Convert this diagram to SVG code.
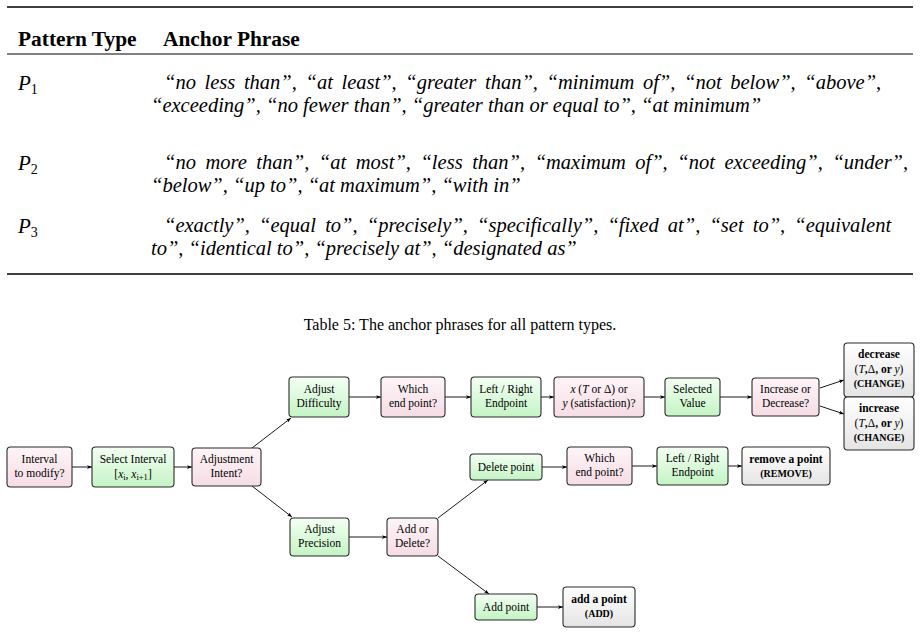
<svg xmlns="http://www.w3.org/2000/svg" width="921" height="634" viewBox="0 0 921 634">
<style>
text{font-family:"Liberation Serif","Times New Roman",serif;fill:#000}
.hd{font-size:21.4px;font-weight:bold}
.ph{font-size:20.5px;font-style:italic}
.pl{font-size:21px;font-style:italic}
.sb{font-size:14px;font-style:normal}
.cap{font-size:16px}
.n{font-size:11.5px;text-anchor:middle}
.b{font-weight:bold}
.sc{font-size:10px;font-weight:bold}
.i{font-style:italic}
.s{font-size:8.5px}
.rule{stroke:#000}
.box{stroke:#2a2a2a;stroke-width:1.1}
.pk{fill:url(#gp)}
.gr{fill:url(#gg)}
.gy{fill:url(#gy)}
.c{stroke:#000;stroke-width:0.9;fill:none;marker-end:url(#ah)}
</style>
<defs>
<linearGradient id="gp" x1="0" y1="0" x2="0" y2="1"><stop offset="0" stop-color="#fdf5f8"/><stop offset="1" stop-color="#f6dce5"/></linearGradient>
<linearGradient id="gg" x1="0" y1="0" x2="0" y2="1"><stop offset="0" stop-color="#f4fff4"/><stop offset="1" stop-color="#c4f4c4"/></linearGradient>
<linearGradient id="gy" x1="0" y1="0" x2="0" y2="1"><stop offset="0" stop-color="#ffffff"/><stop offset="1" stop-color="#e4e4e4"/></linearGradient>
<marker id="ah" viewBox="0 0 8 6" refX="8" refY="3" markerWidth="5" markerHeight="4" orient="auto" markerUnits="userSpaceOnUse"><path d="M0,0 L8,3 L0,6 L2,3 Z" fill="#000"/></marker>
</defs>

<g id="table">
<line class="rule" x1="7" y1="7" x2="913" y2="7" stroke-width="1.6"/>
<text class="hd" x="18" y="46">Pattern Type</text>
<text class="hd" x="163" y="46">Anchor Phrase</text>
<line class="rule" x1="7" y1="54" x2="913" y2="54" stroke-width="1"/>
<text class="pl" x="18" y="90">P<tspan class="sb" dy="4">1</tspan></text>
<text class="ph" x="164" y="89" style="word-spacing:3.5px">“no less than”, “at least”, “greater than”, “minimum of”, “not below”, “above”,</text>
<text class="ph" x="151" y="112">“exceeding”, “no fewer than”, “greater than or equal to”, “at minimum”</text>
<text class="pl" x="18" y="170">P<tspan class="sb" dy="4">2</tspan></text>
<text class="ph" x="164" y="169" style="word-spacing:4.4px">“no more than”, “at most”, “less than”, “maximum of”, “not exceeding”, “under”,</text>
<text class="ph" x="151" y="192">“below”, “up to”, “at maximum”, “with in”</text>
<text class="pl" x="18" y="233">P<tspan class="sb" dy="4">3</tspan></text>
<text class="ph" x="164" y="232" style="word-spacing:4px">“exactly”, “equal to”, “precisely”, “specifically”, “fixed at”, “set to”, “equivalent</text>
<text class="ph" x="151" y="255">to”, “identical to”, “precisely at”, “designated as”</text>
<line class="rule" x1="7" y1="274" x2="913" y2="274" stroke-width="1.6"/>
<text class="cap" x="460" y="330" text-anchor="middle">Table 5: The anchor phrases for all pattern types.</text>
</g>

<g id="connectors">
<line class="c" x1="72" y1="467" x2="92" y2="467"/>
<line class="c" x1="174" y1="467" x2="192" y2="467"/>
<line class="c" x1="252" y1="448" x2="291" y2="418"/>
<line class="c" x1="252" y1="486" x2="292" y2="517"/>
<line class="c" x1="349" y1="397" x2="381" y2="397"/>
<line class="c" x1="445" y1="397" x2="471" y2="397"/>
<line class="c" x1="541" y1="397" x2="554" y2="397"/>
<line class="c" x1="644" y1="397" x2="665" y2="397"/>
<line class="c" x1="720" y1="397" x2="752" y2="397"/>
<line class="c" x1="820" y1="388" x2="844" y2="380"/>
<line class="c" x1="820" y1="406" x2="844" y2="414"/>
<line class="c" x1="349" y1="537" x2="387" y2="537"/>
<line class="c" x1="438" y1="518" x2="488" y2="480"/>
<line class="c" x1="438" y1="556" x2="489" y2="594"/>
<line class="c" x1="542" y1="467" x2="567" y2="467"/>
<line class="c" x1="632" y1="466" x2="657" y2="466"/>
<line class="c" x1="728" y1="466" x2="742" y2="466"/>
<line class="c" x1="537" y1="607" x2="563" y2="607"/>
</g>

<g id="n-interval"><rect class="box pk" x="7" y="447" width="65" height="40" rx="3.5"/>
<text class="n" x="39.5" y="463">Interval</text><text class="n" x="39.5" y="477">to modify?</text></g>

<g id="n-select"><rect class="box gr" x="92" y="447" width="82" height="40" rx="3.5"/>
<text class="n" x="133" y="463">Select Interval</text>
<text class="n" x="133" y="478">[<tspan class="i">x</tspan><tspan class="s" dy="2">i</tspan><tspan dy="-2">, </tspan><tspan class="i">x</tspan><tspan class="s" dy="2">i+1</tspan><tspan dy="-2">]</tspan></text></g>

<g id="n-intent"><rect class="box pk" x="192" y="448" width="69" height="38" rx="3.5"/>
<text class="n" x="226.5" y="463">Adjustment</text><text class="n" x="226.5" y="477">Intent?</text></g>

<g id="n-difficulty"><rect class="box gr" x="289" y="377" width="60" height="40" rx="3.5"/>
<text class="n" x="319" y="393">Adjust</text><text class="n" x="319" y="407">Difficulty</text></g>

<g id="n-which1"><rect class="box pk" x="381" y="377" width="64" height="40" rx="3.5"/>
<text class="n" x="413" y="393">Which</text><text class="n" x="413" y="407">end point?</text></g>

<g id="n-lr1"><rect class="box gr" x="471" y="377" width="70" height="40" rx="3.5"/>
<text class="n" x="506" y="393">Left / Right</text><text class="n" x="506" y="407">Endpoint</text></g>

<g id="n-xy"><rect class="box pk" x="554" y="377" width="90" height="40" rx="3.5"/>
<text class="n" x="599" y="393"><tspan class="i">x</tspan> (<tspan class="i">T</tspan> or Δ) or</text>
<text class="n" x="599" y="407"><tspan class="i">y</tspan> (satisfaction)?</text></g>

<g id="n-value"><rect class="box gr" x="665" y="378" width="55" height="38" rx="3.5"/>
<text class="n" x="692.5" y="393">Selected</text><text class="n" x="692.5" y="407">Value</text></g>

<g id="n-incdec"><rect class="box pk" x="752" y="378" width="67" height="38" rx="3.5"/>
<text class="n" x="785.5" y="393">Increase or</text><text class="n" x="785.5" y="407">Decrease?</text></g>

<g id="n-decrease"><rect class="box gy" x="844" y="343" width="70" height="54" rx="3.5"/>
<text class="n b" x="879" y="358">decrease</text>
<text class="n" x="879" y="373">(<tspan class="i">T</tspan><tspan class="b">,</tspan>Δ<tspan class="b">, or </tspan><tspan class="i">y</tspan>)</text>
<text class="n sc" x="879" y="387">(CHANGE)</text></g>

<g id="n-increase"><rect class="box gy" x="844" y="397" width="70" height="53" rx="3.5"/>
<text class="n b" x="879" y="412">increase</text>
<text class="n" x="879" y="427">(<tspan class="i">T</tspan><tspan class="b">,</tspan>Δ<tspan class="b">, or </tspan><tspan class="i">y</tspan>)</text>
<text class="n sc" x="879" y="441">(CHANGE)</text></g>

<g id="n-delete"><rect class="box gr" x="470" y="454" width="72" height="26" rx="3.5"/>
<text class="n" x="506" y="471">Delete point</text></g>

<g id="n-which2"><rect class="box pk" x="567" y="447" width="65" height="38" rx="3.5"/>
<text class="n" x="599.5" y="462">Which</text><text class="n" x="599.5" y="476">end point?</text></g>

<g id="n-lr2"><rect class="box gr" x="657" y="447" width="71" height="38" rx="3.5"/>
<text class="n" x="692.5" y="462">Left / Right</text><text class="n" x="692.5" y="476">Endpoint</text></g>

<g id="n-remove"><rect class="box gy" x="742" y="447" width="88" height="38" rx="3.5"/>
<text class="n b" x="786" y="463">remove a point</text>
<text class="n sc" x="786" y="477">(REMOVE)</text></g>

<g id="n-precision"><rect class="box gr" x="290" y="518" width="59" height="38" rx="3.5"/>
<text class="n" x="319.5" y="533">Adjust</text><text class="n" x="319.5" y="547">Precision</text></g>

<g id="n-adddel"><rect class="box pk" x="387" y="518" width="51" height="38" rx="3.5"/>
<text class="n" x="412.5" y="533">Add or</text><text class="n" x="412.5" y="547">Delete?</text></g>

<g id="n-addpoint"><rect class="box gr" x="475" y="594" width="62" height="26" rx="3.5"/>
<text class="n" x="506" y="611">Add point</text></g>

<g id="n-add"><rect class="box gy" x="563" y="587" width="72" height="40" rx="3.5"/>
<text class="n b" x="599" y="603">add a point</text>
<text class="n sc" x="599" y="617">(ADD)</text></g>
</svg>
